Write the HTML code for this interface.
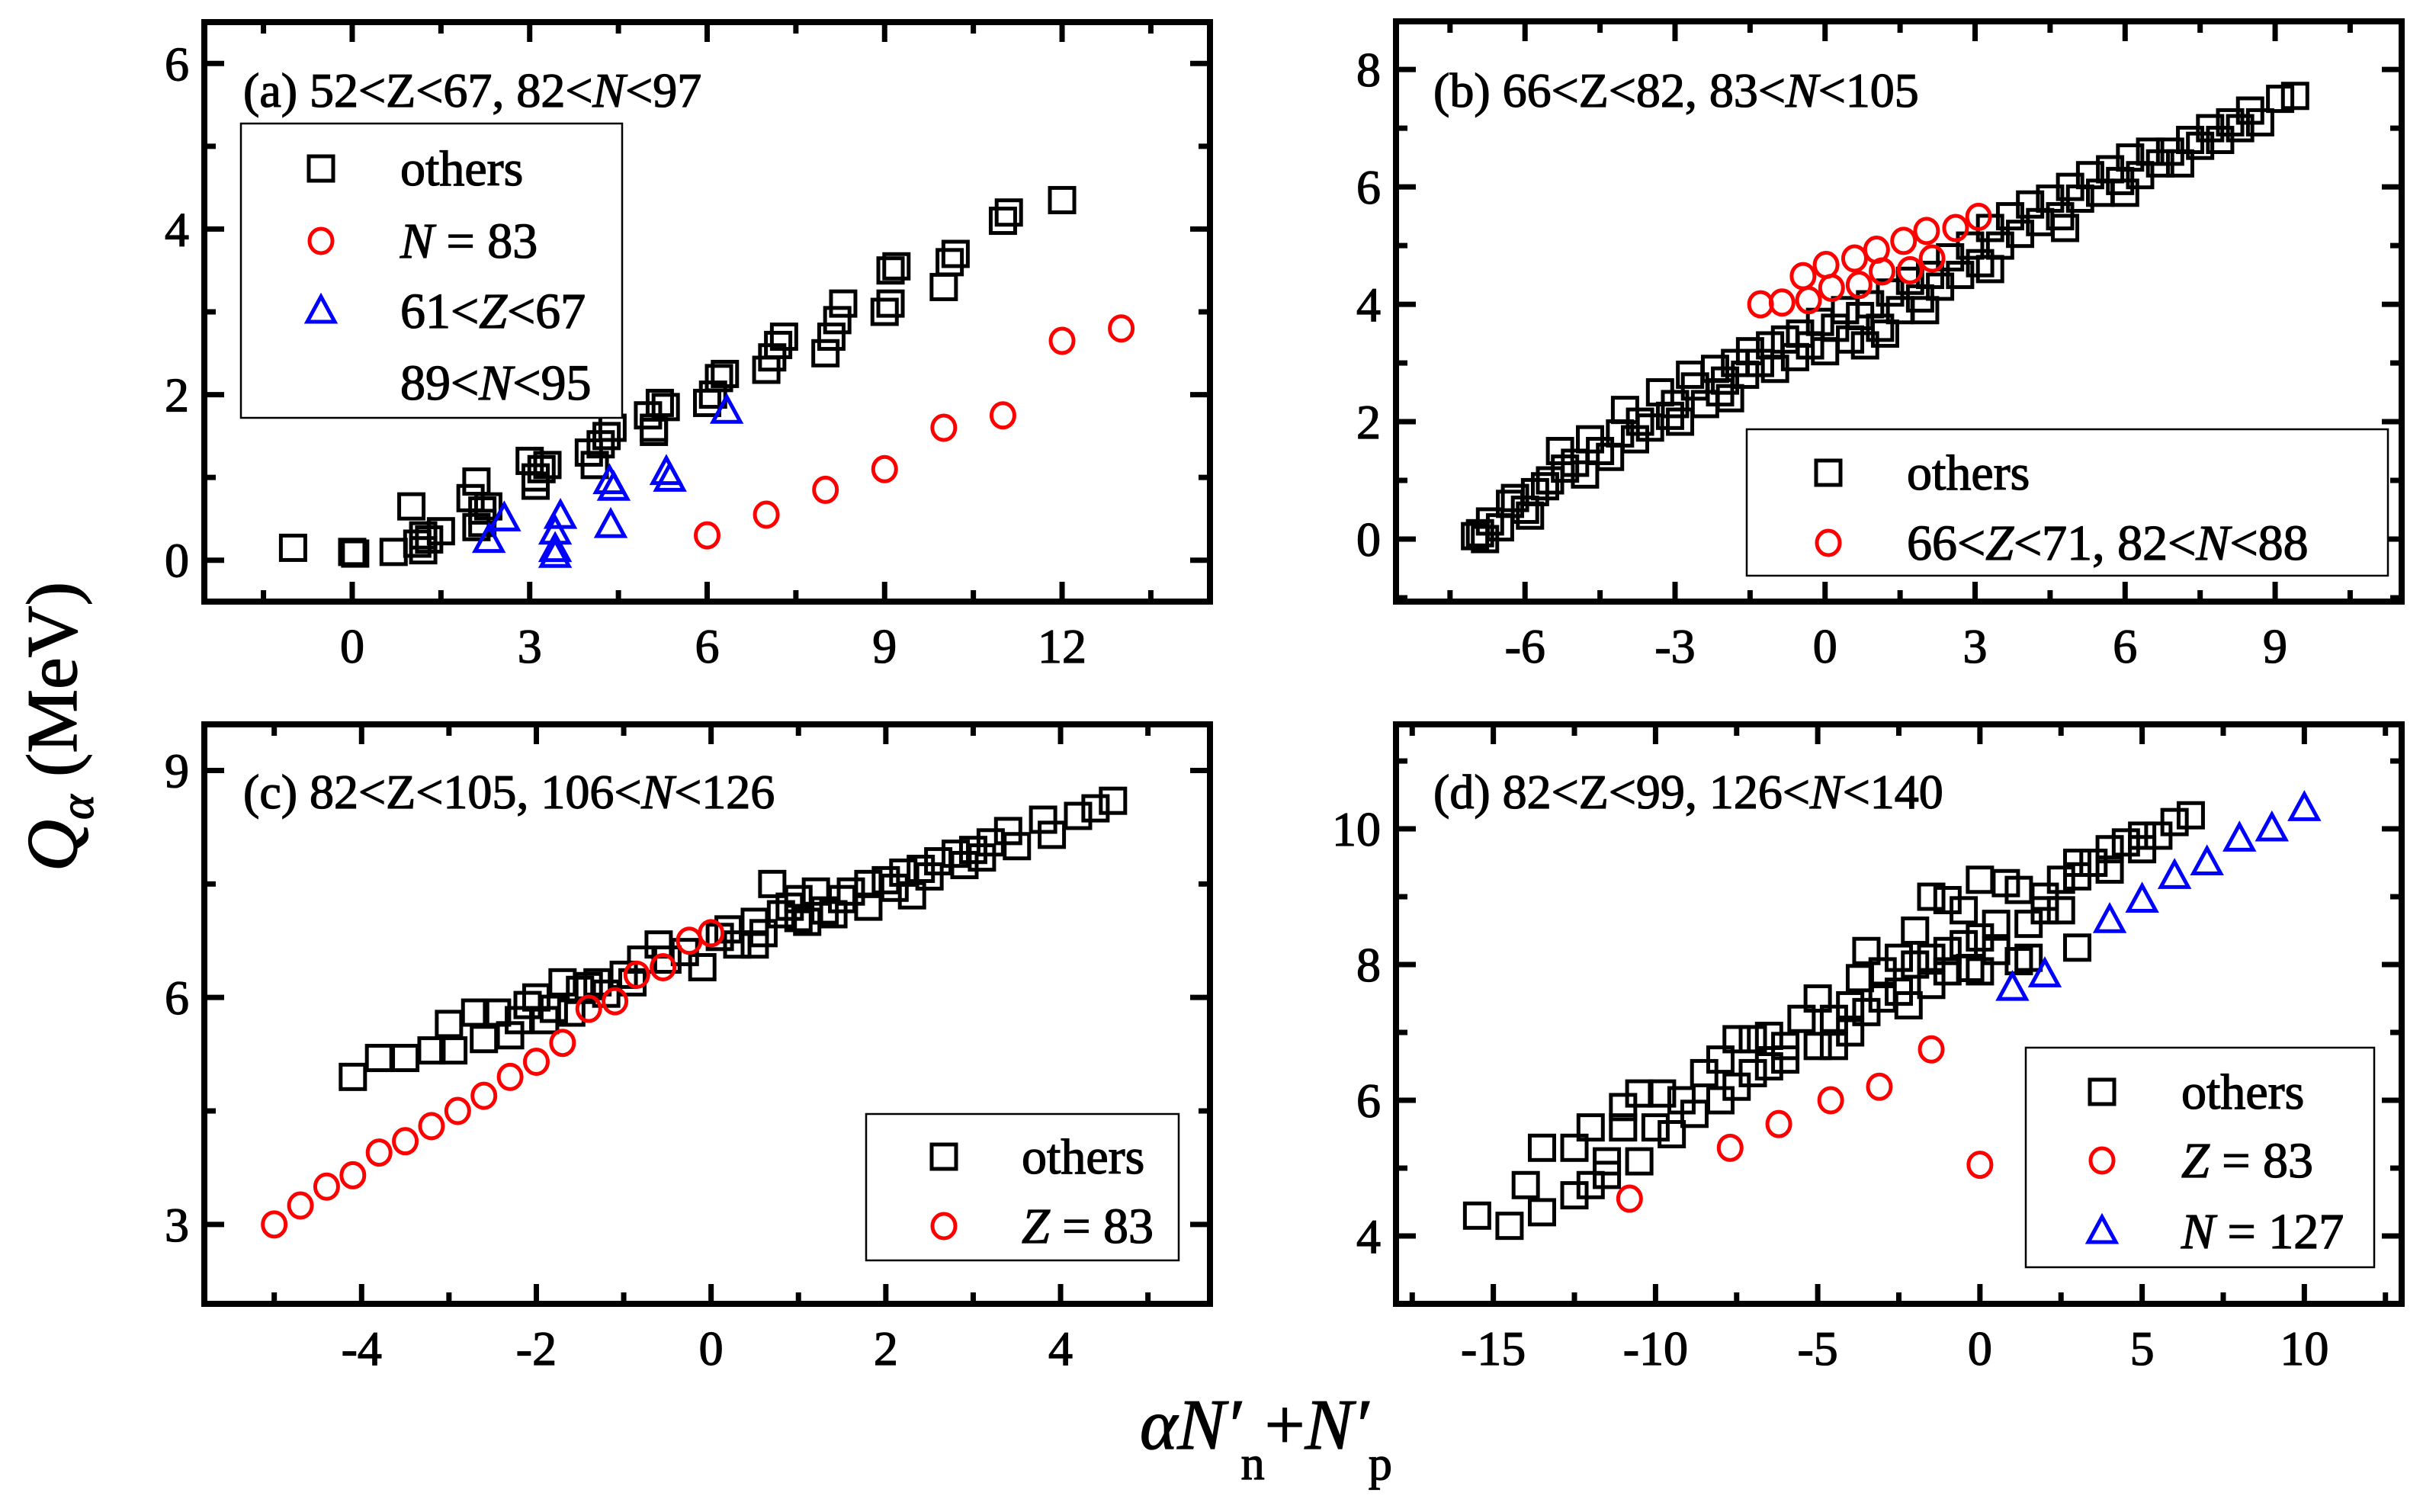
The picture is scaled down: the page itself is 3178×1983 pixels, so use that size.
<!DOCTYPE html>
<html><head><meta charset="utf-8">
<style>
html,body{margin:0;padding:0;background:#fff;}
svg{display:block;font-family:"Liberation Serif",serif;}
svg text{stroke:#000;stroke-width:1.3px;}
</style></head>
<body>
<svg id="chart" width="3178" height="1983" viewBox="0 0 3178 1983" xmlns="http://www.w3.org/2000/svg">
<text transform="translate(100,953) rotate(-90)" text-anchor="middle" font-size="94"><tspan font-style="italic">Q</tspan><tspan font-style="italic" font-size="62" dy="22">α</tspan><tspan dy="-22"> (MeV)</tspan></text>
<text x="1495" y="1900" font-size="94"><tspan font-style="italic">αN′</tspan><tspan font-size="62" dy="40">n</tspan><tspan dy="-40">+</tspan><tspan font-style="italic">N′</tspan><tspan font-size="62" dy="40">p</tspan></text>
</svg>
<script>
// ---- Panel (a) data ----
const aOthersX=[-1,0,0.05,0.7,1,1.1,1.2,1.3,1.5,1.2,2,2.1,2.2,2.2,2.3,2.1,3,3.1,3.1,3.2,3.3,4,4.1,4.2,4.3,4.4,5,5.1,5.1,5.2,5.3,6,6.1,6.2,6.3,7,7.1,7.2,7.3,8,8.1,8.2,8.3,9,9.1,9.1,9.2,10,10.1,10.2,11,11.1,12];
const aOthersY=[0.15,0.1,0.08,0.1,0.65,0.2,0.3,0.25,0.35,0.12,0.75,0.95,0.6,0.45,0.65,0.4,1.2,0.9,1.0,1.1,1.15,1.3,1.15,1.4,1.5,1.6,1.75,1.6,1.55,1.9,1.85,1.9,2.0,2.2,2.25,2.3,2.45,2.6,2.7,2.5,2.7,2.9,3.1,3.0,3.1,3.5,3.55,3.3,3.6,3.7,4.1,4.2,4.35];
const aCircX=[6,7,8,9,10,11,12,13];
const aCircY=[0.3,0.55,0.85,1.1,1.6,1.75,2.65,2.8];
const aTriX=[2.31,2.57,3.43,3.43,3.43,3.52,4.35,4.42,4.37,5.31,5.37,6.33];
const aTriY=[0.24,0.5,0.34,0.13,0.06,0.53,0.95,0.87,0.42,1.06,0.98,1.8];
const aXTicks=[0,3,6,9,12];
const aYTicks=[0,2,4,6];
// ---- Panel (b) data ----
const bOthersX=[-7,-6.9,-6.7,-6.5,-6.3,-6.2,-6,-5.8,-5.6,-5.5,-5.3,-5.2,-5,-4.8,-4.7,-4.5,-4.3,-4.1,-4,-3.8,-3.7,-3.5,-3.3,-3.1,-3,-2.9,-2.7,-2.6,-2.4,-2.2,-2.1,-2,-1.8,-1.6,-1.5,-1.3,-1.1,-1,-0.8,-0.6,-0.5,-0.3,-0.1,0,0.2,0.4,0.5,0.7,0.9,1.1,1.3,1.5,1.7,1.9,2.1,2.3,2.5,2.7,2.9,3.1,3.3,3.5,3.7,3.9,4.1,4.3,4.5,4.7,4.9,5.1,5.3,5.5,5.7,5.9,6.1,6.3,6.5,6.7,6.9,7.1,7.3,7.5,7.7,7.9,8.1,8.3,8.5,8.7,9.1,9.4,-6.8,-5.9,0.8,1.2,-1.9,3.3,4.8,6.0,2.0];
const bOthersY=[0.05,0.1,0.3,0.2,0.6,0.7,0.5,0.8,0.9,1.0,1.5,1.2,1.3,1.1,1.7,1.5,1.4,1.8,2.2,1.7,2.0,1.9,2.5,2.1,2.3,2.0,2.8,2.6,2.3,2.9,2.5,2.7,3.0,2.8,3.2,3.0,3.3,2.9,3.4,3.1,3.5,3.3,3.7,3.2,3.6,3.9,3.4,3.8,4.0,3.6,4.2,3.9,4.4,4.1,4.5,4.3,4.8,4.5,5.0,4.7,5.3,5.0,5.5,5.2,5.7,5.4,5.8,5.5,6.0,5.8,6.2,5.9,6.3,6.1,6.5,6.2,6.6,6.4,6.6,6.4,6.8,6.7,7.0,6.8,7.1,7.0,7.3,7.1,7.5,7.55,0.0,0.4,3.3,3.5,2.4,4.6,5.3,5.9,3.9];
const bCircX=[-1.29,-0.86,-0.44,-0.33,0.02,0.13,0.59,0.68,1.03,1.14,1.57,1.7,2.03,2.14,2.61,3.07];
const bCircY=[4.0,4.03,4.48,4.07,4.67,4.28,4.78,4.33,4.93,4.56,5.08,4.58,5.25,4.78,5.3,5.49];
const bXTicks=[-6,-3,0,3,6,9];
const bYTicks=[0,2,4,6,8];
// ---- Panel (c) data ----
const cOthersX=[-4.1,-3.8,-3.5,-3.2,-2.95,-3.0,-2.7,-2.45,-2.6,-2.3,-2.1,-2.0,-1.9,-1.8,-1.7,-1.5,-1.4,-1.3,-1.2,-1.0,-0.9,-0.8,-0.6,-0.5,-0.3,-0.1,0.1,0.2,0.3,0.5,0.6,0.8,0.9,1.0,1.1,1.2,1.3,1.5,1.6,1.8,2.0,2.1,2.2,2.4,2.5,2.6,2.8,3.0,3.1,3.2,3.4,3.5,3.8,3.9,4.2,4.4,4.6,1.8,1.0,0.5,-1.6,-2.2,2.9,0.7,1.4,2.3];
const cOthersY=[4.95,5.2,5.2,5.3,5.3,5.65,5.8,5.8,5.45,5.5,5.9,6.0,5.7,5.85,6.2,6.1,6.15,6.2,6.05,6.3,6.2,6.5,6.7,6.5,6.6,6.4,6.8,6.9,6.7,7.0,6.85,7.1,7.2,7.3,7.0,7.4,7.15,7.3,7.4,7.5,7.55,7.45,7.65,7.7,7.6,7.8,7.9,7.95,7.85,8.05,8.2,8.0,8.35,8.15,8.4,8.5,8.6,7.2,7.05,6.7,5.8,5.7,7.75,7.5,7.1,7.35];
const cCircX=[-5,-4.7,-4.4,-4.1,-3.8,-3.5,-3.2,-2.9,-2.6,-2.3,-2.0,-1.7,-1.4,-1.1,-0.85,-0.55,-0.25,0];
const cCircY=[3.0,3.25,3.5,3.65,3.95,4.1,4.3,4.5,4.7,4.95,5.15,5.4,5.85,5.95,6.3,6.4,6.75,6.85];
const cXTicks=[-4,-2,0,2,4];
const cYTicks=[3,6,9];
// ---- Panel (d) data ----
const dOthersX=[-15.5,-14.5,-13.5,-14,-13.5,-12.5,-12,-12.5,-11.5,-11.5,-12,-11,-11,-10.5,-10.5,-10,-9.8,-9.5,-9.2,-8.8,-8.5,-8,-8,-7.5,-7.5,-7,-7,-6.5,-6.5,-6,-6,-5.5,-5,-5,-4.5,-4.5,-4,-4,-3.7,-3.5,-3.5,-3,-3,-2.5,-2.5,-2.2,-2,-2,-1.5,-1.5,-1,-1,-1.5,-1,-0.5,-0.5,0,0,0.5,0.5,0.8,1.2,1.5,1.5,2,2,2.5,2.5,3,3,3.5,4,4,4.5,5,5,5.5,6,6.5,3,1.2,0,-0.3];
const dOthersY=[4.3,4.15,4.35,4.75,5.3,4.6,4.75,5.3,5.1,4.9,5.6,5.9,5.6,5.1,6.1,5.6,6.1,5.5,6.0,5.8,6.4,6.0,6.6,6.2,6.9,6.9,6.4,6.5,6.95,6.6,6.8,7.2,7.5,6.8,6.8,7.2,7.0,7.4,7.8,7.3,8.2,7.5,7.9,7.6,8.1,7.4,8.5,8.0,7.7,8.1,8.2,7.9,9.0,8.95,8.8,8.3,8.4,7.9,8.6,8.2,9.2,9.1,8.6,8.1,9.0,8.8,9.25,8.8,9.5,9.3,9.5,9.4,9.7,9.8,9.9,9.7,9.9,10.1,10.2,8.25,8.05,9.25,7.95];
const dCircX=[-10.8,-7.7,-6.2,-4.6,-3.1,-1.5,0];
const dCircY=[4.55,5.3,5.65,6.0,6.2,6.75,5.05];
const dTriX=[1,2,4,5,6,7,8,9,10];
const dTriY=[7.65,7.85,8.65,8.95,9.3,9.5,9.85,10.0,10.3];
const dXTicks=[-15,-10,-5,0,5,10];
const dYTicks=[4,6,8,10];

const NS='http://www.w3.org/2000/svg';
const svg=document.getElementById('chart');
function mk(tag,attrs,parent){const e=document.createElementNS(NS,tag);for(const k in attrs)e.setAttribute(k,attrs[k]);(parent||svg).appendChild(e);return e;}

function panel(cfg){
  const g=mk('g',{});
  
  
  const sx=v=>cfg.L+(v-cfg.x0)/(cfg.x1-cfg.x0)*(cfg.R-cfg.L);
  const sy=v=>cfg.B-(v-cfg.y0)/(cfg.y1-cfg.y0)*(cfg.B-cfg.T);
  const tk=(x1,y1,x2,y2)=>mk('line',{x1,y1,x2,y2,stroke:'#000','stroke-width':7},g);
  for(let v=Math.ceil(cfg.x0/cfg.xm)*cfg.xm;v<=cfg.x1+1e-9;v+=cfg.xm){
    const major=cfg.xTicks.some(t=>Math.abs(t-v)<1e-6);const len=major?26:15;const x=sx(v);
    tk(x,cfg.B,x,cfg.B-len);tk(x,cfg.T,x,cfg.T+len);}
  for(let v=Math.ceil(cfg.y0/cfg.ym)*cfg.ym;v<=cfg.y1+1e-9;v+=cfg.ym){
    const major=cfg.yTicks.some(t=>Math.abs(t-v)<1e-6);const len=major?26:15;const y=sy(v);
    tk(cfg.L,y,cfg.L+len,y);tk(cfg.R,y,cfg.R-len,y);}
  const fr=mk('rect',{x:cfg.L,y:cfg.T,width:cfg.R-cfg.L,height:cfg.B-cfg.T,fill:'none',stroke:'#000','stroke-width':8},g);
  
  
  cfg.xTicks.forEach(v=>{const t=mk('text',{x:sx(v),y:cfg.B+80,'text-anchor':'middle','font-size':64},g);t.textContent=v;
    
    });
  cfg.yTicks.forEach(v=>{const t=mk('text',{x:cfg.L-20,y:sy(v)+22,'text-anchor':'end','font-size':64},g);t.textContent=v;
    
    });
  cfg.series.forEach(s=>{
    const sg=mk('g',{},g);
    
    
    s.x.forEach((xv,i)=>{drawMarker(sg,s.type,sx(xv),sy(s.y[i]));});
  });
  const lab=mk('text',{x:cfg.labX,y:cfg.labY,'font-size':64},g);
  lab.innerHTML=cfg.label;
  
  
  const lg=mk('g',{},g);
  
  
  const l=cfg.legend;
  mk('rect',{x:l.x,y:l.y,width:l.w,height:l.h,fill:'#fff',stroke:'#000','stroke-width':2.5},lg);
  l.items.forEach(it=>{
    const eg=mk('g',{},lg);
    
    
    if(it.type)drawMarker(eg,it.type,l.sx,it.y);
    const t=mk('text',{x:l.tx,y:it.y+22,'font-size':66},eg);t.innerHTML=it.text;
  });
}
function drawMarker(p,type,x,y){
  let e;
  if(type==='sq')e=mk('rect',{x:x-16,y:y-16,width:32,height:32,fill:'none',stroke:'#000','stroke-width':5},p);
  else if(type==='ci')e=mk('ellipse',{cx:x,cy:y,rx:15,ry:16,fill:'none',stroke:'#f00','stroke-width':5},p);
  else e=mk('polygon',{points:`${x},${y-19} ${x-18},${y+14} ${x+18},${y+14}`,fill:'none',stroke:'#00f','stroke-width':5},p);
  
  
}
const I=s=>`<tspan font-style="italic">${s}</tspan>`;
panel({name:'panel-a',L:268,R:1587,T:29,B:789,x0:-2.5,x1:14.5,y0:-0.5,y1:6.5,xm:1.5,ym:1,xTicks:aXTicks,yTicks:aYTicks,
  series:[{name:'series-others',type:'sq',x:aOthersX,y:aOthersY},{name:'series-n83',type:'ci',x:aCircX,y:aCircY},{name:'series-61z67',type:'tr',x:aTriX,y:aTriY}],
  label:`(a) 52&lt;Z&lt;67, 82&lt;${I('N')}&lt;97`,labX:319,labY:140,
  legend:{x:316,y:162,w:500,h:386,sx:421,tx:525,items:[{type:'sq',y:221,text:'others'},{type:'ci',y:316,text:`${I('N')} = 83`},{type:'tr',y:408,text:`61&lt;${I('Z')}&lt;67`},{type:null,y:502,text:`89&lt;${I('N')}&lt;95`}]}});
panel({name:'panel-b',L:1831,R:3150,T:28,B:789,x0:-8.58,x1:11.53,y0:-1.065,y1:8.82,xm:1.5,ym:1,xTicks:bXTicks,yTicks:bYTicks,
  series:[{name:'series-others',type:'sq',x:bOthersX,y:bOthersY},{name:'series-66z71',type:'ci',x:bCircX,y:bCircY}],
  label:`(b) 66&lt;Z&lt;82, 83&lt;${I('N')}&lt;105`,labX:1880,labY:140,
  legend:{x:2291,y:563,w:841,h:192,sx:2398,tx:2501,items:[{type:'sq',y:620,text:'others'},{type:'ci',y:712,text:`66&lt;${I('Z')}&lt;71, 82&lt;${I('N')}&lt;88`}]}});
panel({name:'panel-c',L:268,R:1587,T:950,B:1710,x0:-5.8,x1:5.71,y0:1.95,y1:9.61,xm:1,ym:1.5,xTicks:cXTicks,yTicks:cYTicks,
  series:[{name:'series-others',type:'sq',x:cOthersX,y:cOthersY},{name:'series-z83',type:'ci',x:cCircX,y:cCircY}],
  label:`(c) 82&lt;Z&lt;105, 106&lt;${I('N')}&lt;126`,labX:319,labY:1060,
  legend:{x:1136,y:1461,w:410,h:192,sx:1238,tx:1340,items:[{type:'sq',y:1517,text:'others'},{type:'ci',y:1608,text:`${I('Z')} = 83`}]}});
panel({name:'panel-d',L:1831,R:3150,T:950,B:1710,x0:-18,x1:13,y0:3.0,y1:11.54,xm:2.5,ym:1,xTicks:dXTicks,yTicks:dYTicks,
  series:[{name:'series-others',type:'sq',x:dOthersX,y:dOthersY},{name:'series-z83',type:'ci',x:dCircX,y:dCircY},{name:'series-n127',type:'tr',x:dTriX,y:dTriY}],
  label:`(d) 82&lt;Z&lt;99, 126&lt;${I('N')}&lt;140`,labX:1880,labY:1060,
  legend:{x:2657,y:1374,w:457,h:288,sx:2757,tx:2861,items:[{type:'sq',y:1432,text:'others'},{type:'ci',y:1522,text:`${I('Z')} = 83`},{type:'tr',y:1615,text:`${I('N')} = 127`}]}});
</script>
</body></html>
